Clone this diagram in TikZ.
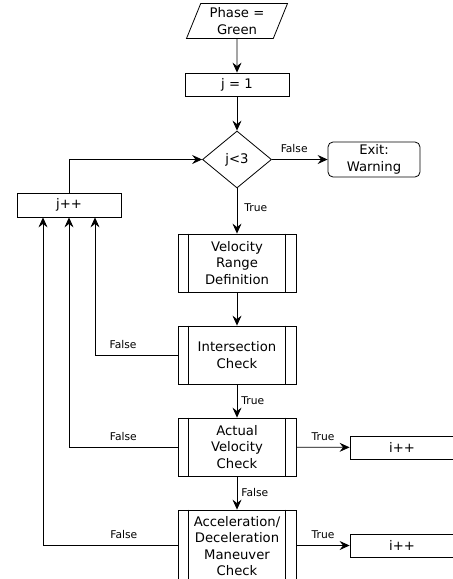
\documentclass[tikz,border=0pt]{standalone}
\usepackage{fontspec}
\setmainfont{DejaVu Sans}
\usepackage{tikz}
\usetikzlibrary{shapes.geometric, arrows.meta, positioning, calc}

\begin{document}
\begin{tikzpicture}[x=1pt, y=-1pt,
  txt/.style={font=\fontsize{13.2}{16.3}\selectfont, align=center},
  blk/.style={txt, draw, line width=0.8pt, fill=white, inner sep=2pt},
  io/.style={blk, trapezium, trapezium left angle=65, trapezium right angle=115,
             trapezium stretches body, minimum width=101pt, minimum height=35pt},
  cnt/.style={blk, minimum width=104pt, minimum height=23pt},
  dec/.style={blk, diamond, minimum width=69pt, minimum height=57pt, inner sep=0pt},
  term/.style={blk, rounded corners=5pt, minimum width=92pt, minimum height=35pt},
  proc/.style={blk, minimum width=118pt, text width=104pt},
  arr/.style={-{Stealth[length=10pt, width=9pt, inset=3.5pt]}, line width=0.8pt},
  lbl/.style={font=\fontsize{10.7}{12}\selectfont, inner sep=1pt},
]
\clip (0,0) rectangle (453,579);

\node[io] (phase) at (237,21) {Phase =\\Green};
\node[cnt] (init) at (237,84.5) {j = 1};
\node[dec] (cond) at (237,159.5) {j<3};
\node[term] (exit) at (374,159.5) {Exit:\\Warning};
\node[cnt, minimum height=24pt] (jinc) at (69,205) {j++};

\node[proc, minimum height=58pt] (vel) at (237,263) {Velocity\\Range\\Definition};
\node[proc, minimum height=58pt] (inter) at (237,355) {Intersection\\Check};
\node[proc, minimum height=58pt] (act) at (237,447) {Actual\\Velocity\\Check};
\node[proc, minimum height=72pt] (acc) at (237,546) {Acceleration/\\Deceleration\\Maneuver\\Check};

\node[cnt] (inc1) at (402,447.5) {i++};
\node[cnt] (inc2) at (402,545.5) {i++};

% side bars of the process boxes
\foreach \n in {vel, inter, act, acc} {
  \draw[line width=0.8pt] ([xshift=11pt]\n.north west) -- ([xshift=11pt]\n.south west);
  \draw[line width=0.8pt] ([xshift=-11pt]\n.north east) -- ([xshift=-11pt]\n.south east);
}

\draw[arr] (phase) -- (init);
\draw[arr] (init) -- (cond);
\draw[arr] (cond) -- node[lbl, pos=0.4, above=5pt] {False} (exit);
\draw[arr] (cond) -- node[lbl, pos=0.42, right=6pt] {True} (vel);
\draw[arr] (jinc.north) |- (cond.west);
\draw[arr] (vel) -- (inter);
\draw[arr] (inter) -- node[lbl, right=3pt] {True} (act);
\draw[arr] (act) -- node[lbl, right=3pt] {False} (acc);
\draw[arr] (act) -- node[lbl, above=5pt] {True} (inc1);
\draw[arr] (acc.east |- inc2) -- node[lbl, above=5pt] {True} (inc2);

% loop back to j++
\draw[arr] (inter.west) -| node[lbl, pos=0.33, above=5pt] {False} ([xshift=26pt]jinc.south);
\draw[arr] (act.west) -| node[lbl, pos=0.25, above=5pt] {False} (jinc.south);
\draw[arr] (acc.west |- inc2) -| node[lbl, pos=0.2, above=5pt] {False} ([xshift=-26pt]jinc.south);
\end{tikzpicture}
\end{document}
